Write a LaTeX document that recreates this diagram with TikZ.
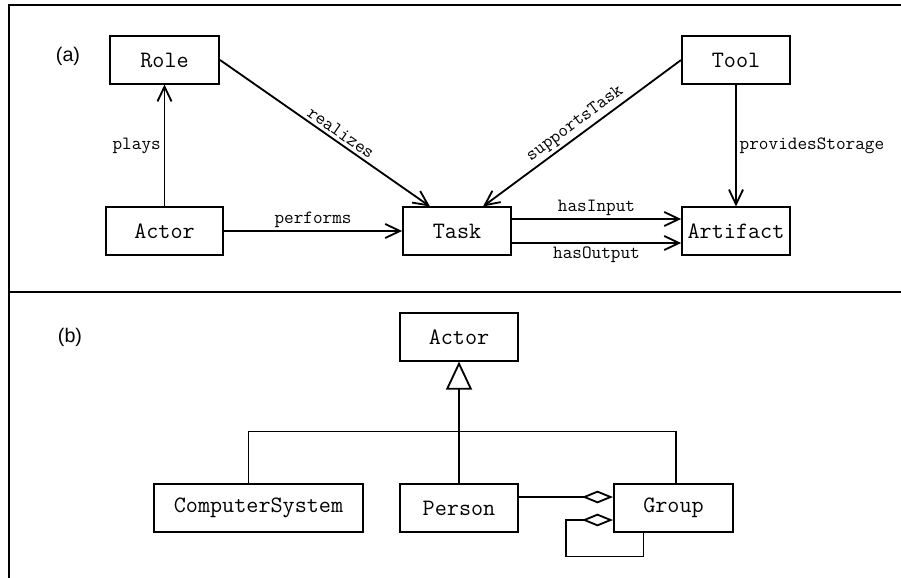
\documentclass[tikz,border=0pt]{standalone}
\usepackage{fontspec}
\usetikzlibrary{calc,arrows.meta}
\newfontfamily\tagfont{Liberation Sans}

\begin{document}
\begin{tikzpicture}[x=0.025cm,y=-0.025cm,
  cls/.style={draw, line width=1.3pt, minimum height=1.18cm, inner sep=0pt,
    font=\ttfamily\fontsize{16.7}{19}\selectfont},
  lbl/.style={font=\ttfamily\fontsize{13.3}{15}\selectfont, inner sep=2pt},
  tag/.style={font=\tagfont\fontsize{14}{16}\selectfont},
  arr/.style={line width=1.3pt, -{Straight Barb[length=10.5pt,width=10pt]}},
  gen/.style={line width=1.3pt, -{Triangle[open,length=20pt,width=18.5pt]}},
  agg/.style={line width=1.3pt, -{Diamond[open,length=22pt,width=9pt]}},
  bus/.style={line width=1.3pt}]
\useasboundingbox (0,0) rectangle (901,578);
% frame
\draw[line width=1.6pt] (9,578) -- (9,5) -- (901,5);
\draw[line width=1.6pt] (9,292) -- (901,292);

% (a)
\node[tag] (taga) at (68,56) {(a)};
\node[cls, minimum width=2.73cm] (role) at (164.5,60) {Role};
\node[cls, minimum width=2.93cm] (actor) at (164.5,231) {Actor};
\node[cls, minimum width=2.7cm] (task) at (457,231) {Task};
\node[cls, minimum width=2.7cm] (tool) at (736,60) {Tool};
\node[cls, minimum width=2.7cm] (artifact) at (736,231) {Artifact};

\draw[arr] (actor.north) -- node[lbl, left] {plays} (role.south);
\draw[arr] (role.east) -- node[lbl, sloped, above, pos=0.55] {realizes} ($(task.north)+(-27,0)$);
\draw[arr] (actor.east) -- node[lbl, above] {performs} (task.west);
\draw[arr] (tool.west) -- node[lbl, sloped, above] {supportsTask} ($(task.north)+(26,0)$);
\draw[arr] (tool.south) -- node[lbl, right] {providesStorage} (artifact.north);
\draw[arr] ($(task.east)+(0,-12)$) -- node[lbl, above] {hasInput} ($(artifact.west)+(0,-12)$);
\draw[arr] ($(task.east)+(0,12)$) -- node[lbl, below] {hasOutput} ($(artifact.west)+(0,12)$);

% (b)
\node[tag] (tagb) at (70,337) {(b)};
\node[cls, minimum width=2.95cm] (super) at (459,337) {Actor};
\node[cls, minimum width=5.23cm] (computer) at (258.5,508) {ComputerSystem};
\node[cls, minimum width=2.95cm] (person) at (459,508) {Person};
\node[cls, minimum width=2.98cm] (group) at (673.5,508) {Group};

\draw[gen] (person.north) -- (super.south);
\draw[bus] ($(computer.north)+(-10,0)$) -- ++(0,-52) -| ($(group.north)+(2.5,0)$);
\draw[agg] ($(person.east)+(0,-11)$) -- ($(group.west)+(0,-11)$);
\draw[agg] ($(group.south)+(-30,0)$) -- ++(0,24) -| ($(group.west)+(-47,12)$)
  -- ($(group.west)+(0,12)$);
\end{tikzpicture}
\end{document}
